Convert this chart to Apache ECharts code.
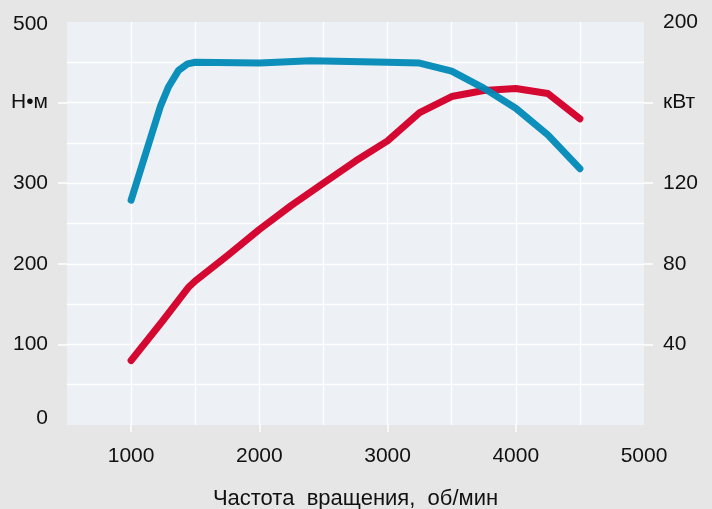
<!DOCTYPE html>
<html><head><meta charset="utf-8">
<script src="https://cdn.jsdelivr.net/npm/echarts@6/dist/echarts.min.js"></script>
<style>html,body{margin:0;padding:0;background:#e6e6e6;}#c{width:712px;height:509px;}</style>
</head><body><div id="c"></div>
<script>
// Data
const rpmTorque = [1000, 1230, 1290, 1370, 1440, 1500, 2000, 2400, 3000, 3250, 3500, 3750, 4000, 4250, 4500];
const torqueNm  = [279, 396, 419, 440, 448, 450, 449, 452, 450, 449, 439, 418, 393, 360, 318];
const rpmPower  = [1000, 1250, 1450, 1500, 1750, 2000, 2250, 2500, 2750, 3000, 3250, 3500, 3750, 4000, 4250, 4500];
const powerKw   = [32, 52, 68.5, 71.5, 84, 97, 109, 120, 131, 141, 155, 163, 166, 167, 164.5, 152];
const xLabels = [1000, 2000, 3000, 4000, 5000];
const leftLabels = [0, 100, 200, 300, 400, 500];
const rightLabels = [40, 80, 120, 160, 200];
const leftUnit = 'Н•м';
const rightUnit = 'кВт';
const xTitle = 'Частота  вращения,  об/мин';

const font = 'Liberation Sans, Arial, Helvetica, sans-serif';
const txt = '#111111';
const fs = 21;
const grid = {color: '#ffffff', width: 1.3};
const tick = {color: '#ffffff', width: 1.5};
const chart = echarts.init(document.getElementById('c'));
chart.setOption({
  backgroundColor: '#e6e6e6',
  animation: false,
  grid: {left: 67, right: 68, top: 22, bottom: 84, containLabel: false, outerBoundsMode: 'none',
         show: true, backgroundColor: '#edf0f5', borderWidth: 0},
  xAxis: [{
    type: 'value', min: 500, max: 5000, interval: 500, position: 'bottom',
    name: xTitle, nameLocation: 'middle', nameGap: 63,
    nameTextStyle: {fontFamily: font, fontSize: 22, color: txt},
    axisLine: {show: false},
    axisTick: {show: true, customValues: [1000, 2000, 3000, 4000], length: 7, lineStyle: tick},
    axisLabel: {customValues: xLabels, margin: 21, fontFamily: font, fontSize: fs, color: txt, formatter: v => String(v)},
    splitLine: {show: false}
  }, {
    // grid lines every 500 rpm
    type: 'value', min: 500, max: 5000, interval: 500, position: 'top',
    axisLine: {show: false}, axisTick: {show: false}, axisLabel: {show: false},
    splitLine: {show: true, showMinLine: false, showMaxLine: false, lineStyle: grid}
  }],
  yAxis: [{
    type: 'value', min: 0, max: 500, interval: 50, position: 'left',
    axisLine: {show: false},
    axisTick: {show: true, customValues: [100, 200, 300, 400], length: 9, lineStyle: tick},
    axisLabel: {
      customValues: leftLabels, margin: 19, fontFamily: font, fontSize: fs, color: txt,
      formatter: v => v === 400 ? leftUnit : (v === 0 ? '{z|0}' : (v === 500 ? '{t|500}' : String(v))),
      rich: {z: {padding: [0, 0, 13, 0], fontFamily: font, fontSize: fs, color: txt},
             t: {padding: [4, 0, 0, 0], fontFamily: font, fontSize: fs, color: txt}}
    },
    splitLine: {show: false}
  }, {
    type: 'value', min: 0, max: 200, interval: 20, position: 'right',
    axisLine: {show: false},
    axisTick: {show: true, customValues: [40, 80, 120, 160], length: 9, lineStyle: tick},
    axisLabel: {
      customValues: rightLabels, margin: 19, fontFamily: font, fontSize: fs, color: txt,
      formatter: v => v === 160 ? rightUnit : String(v)
    },
    splitLine: {show: false}
  }, {
    // grid lines every 50 N·m
    type: 'value', min: 0, max: 500, interval: 50, position: 'left',
    axisLine: {show: false}, axisTick: {show: false}, axisLabel: {show: false},
    splitLine: {show: true, showMinLine: false, showMaxLine: false, lineStyle: grid}
  }],
  series: [{
    type: 'line', yAxisIndex: 1, showSymbol: false, symbol: 'none',
    data: rpmPower.map((r, i) => [r, powerKw[i]]),
    lineStyle: {color: '#d4002a', width: 7, cap: 'round', join: 'round', opacity: 0.97}
  }, {
    type: 'line', yAxisIndex: 0, showSymbol: false, symbol: 'none',
    data: rpmTorque.map((r, i) => [r, torqueNm[i]]),
    lineStyle: {color: '#0089b6', width: 7, cap: 'round', join: 'round', opacity: 0.95}
  }]
});
</script></body></html>
